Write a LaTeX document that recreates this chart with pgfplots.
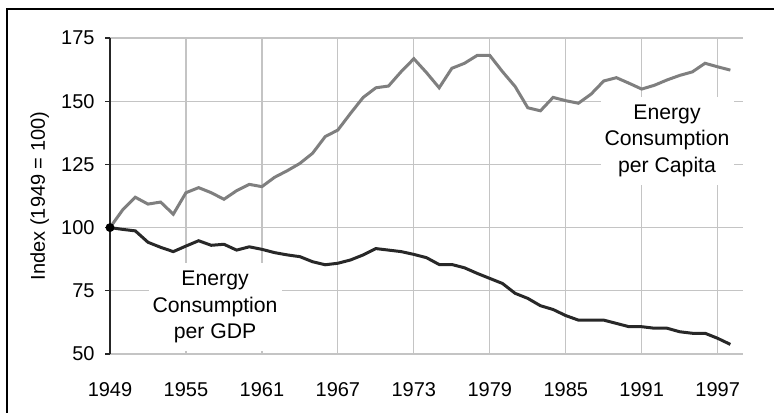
\documentclass[border=0pt]{standalone}
\usepackage{pgfplots}
\pgfplotsset{compat=1.18}
\usepackage{fontspec}
\setmainfont{Liberation Sans}
\definecolor{capcol}{HTML}{7F7F7F}
\definecolor{gdpcol}{HTML}{282828}
\definecolor{gridcol}{HTML}{C4C4C4}
\begin{document}
\begin{tikzpicture}[x=1pt,y=1pt]
\begin{axis}[
  at={(0,0)}, anchor=south west,
  scale only axis, width=316.5pt, height=158pt,
  xmin=1949, xmax=1999, ymin=50, ymax=175,
  xtick={1949,1955,1961,1967,1973,1979,1985,1991,1997},
  ytick={50,75,100,125,150,175},
  /pgf/number format/assume math mode=true,
  x tick label style={/pgf/number format/1000 sep={}, yshift=-8pt},
  y tick label style={xshift=-1.7pt},
  tick label style={font=\fontsize{10}{12}\selectfont},
  grid=major, grid style={draw=gridcol, line width=0.6pt},
  axis x line*=bottom, axis y line*=left,
  axis line style={-},
  x axis line style={draw=gridcol, line width=0.6pt},
  y axis line style={draw=black!85, line width=0.7pt},
  xtick style={draw=none},
  ytick style={draw=black!85, line width=0.6pt},
  tick align=outside, major tick length=2.5pt,
  ylabel={Index (1949 = 100)},
  ylabel style={at={(axis description cs:-0.111,0.5)}, anchor=center, font=\fontsize{10}{12}\selectfont},
  clip=false,
]
\addplot[capcol, line width=1.5pt] coordinates {
(1949,100) (1950,107) (1951,112) (1952,109.3) (1953,110.1) (1954,105.3)
(1955,113.8) (1956,115.8) (1957,113.8) (1958,111.2) (1959,114.6) (1960,117.1)
(1961,116.2) (1962,119.9) (1963,122.5) (1964,125.4) (1965,129.4) (1966,136.0)
(1967,138.6) (1968,145.2) (1969,151.5) (1970,155.3) (1971,156.0) (1972,161.7)
(1973,166.8) (1974,161.3) (1975,155.3) (1976,163.0) (1977,165.0) (1978,168.1)
(1979,168.1) (1980,161.7) (1981,155.8) (1982,147.4) (1983,146.2) (1984,151.5)
(1985,150.2) (1986,149.2) (1987,152.8) (1988,158.0) (1989,159.3) (1990,157.1)
(1991,154.8) (1992,156.3) (1993,158.4) (1994,160.2) (1995,161.6) (1996,165.0)
(1997,163.6) (1998,162.3)
};
\addplot[gdpcol, line width=1.5pt] coordinates {
(1949,100) (1950,99.3) (1951,98.7) (1952,94.2) (1953,92.2) (1954,90.5)
(1955,92.7) (1956,94.8) (1957,93.0) (1958,93.4) (1959,91.1) (1960,92.4)
(1961,91.4) (1962,90.1) (1963,89.2) (1964,88.5) (1965,86.5) (1966,85.3)
(1967,85.9) (1968,87.2) (1969,89.2) (1970,91.7) (1971,91.1) (1972,90.5)
(1973,89.4) (1974,88.1) (1975,85.4) (1976,85.4) (1977,84.1) (1978,81.9)
(1979,79.9) (1980,77.9) (1981,74.0) (1982,72.0) (1983,69.1) (1984,67.6)
(1985,65.2) (1986,63.4) (1987,63.4) (1988,63.4) (1989,62.1) (1990,60.8)
(1991,60.8) (1992,60.2) (1993,60.2) (1994,58.8) (1995,58.2) (1996,58.2)
(1997,56.2) (1998,53.8)
};
\addplot[only marks, mark=*, mark size=2pt, black] coordinates {(1949,100)};
\node[fill=white, align=center, font=\fontsize{10.6}{13.3}\selectfont, inner xsep=2pt, inner ysep=4pt]
  at (axis cs:1957.3,68.6) {Energy\\Consumption\\per GDP};
\node[fill=white, align=center, font=\fontsize{10.6}{13.3}\selectfont, inner xsep=2pt, inner ysep=4pt]
  at (axis cs:1993.0,134.3) {Energy\\Consumption\\per Capita};
\end{axis}
\draw[line width=1pt, black] (-51.5,-100) -- (-51.5,172.5) -- (500,172.5);
\pgfresetboundingbox
\useasboundingbox (-55,-29) rectangle (332,177);
\end{tikzpicture}
\end{document}
